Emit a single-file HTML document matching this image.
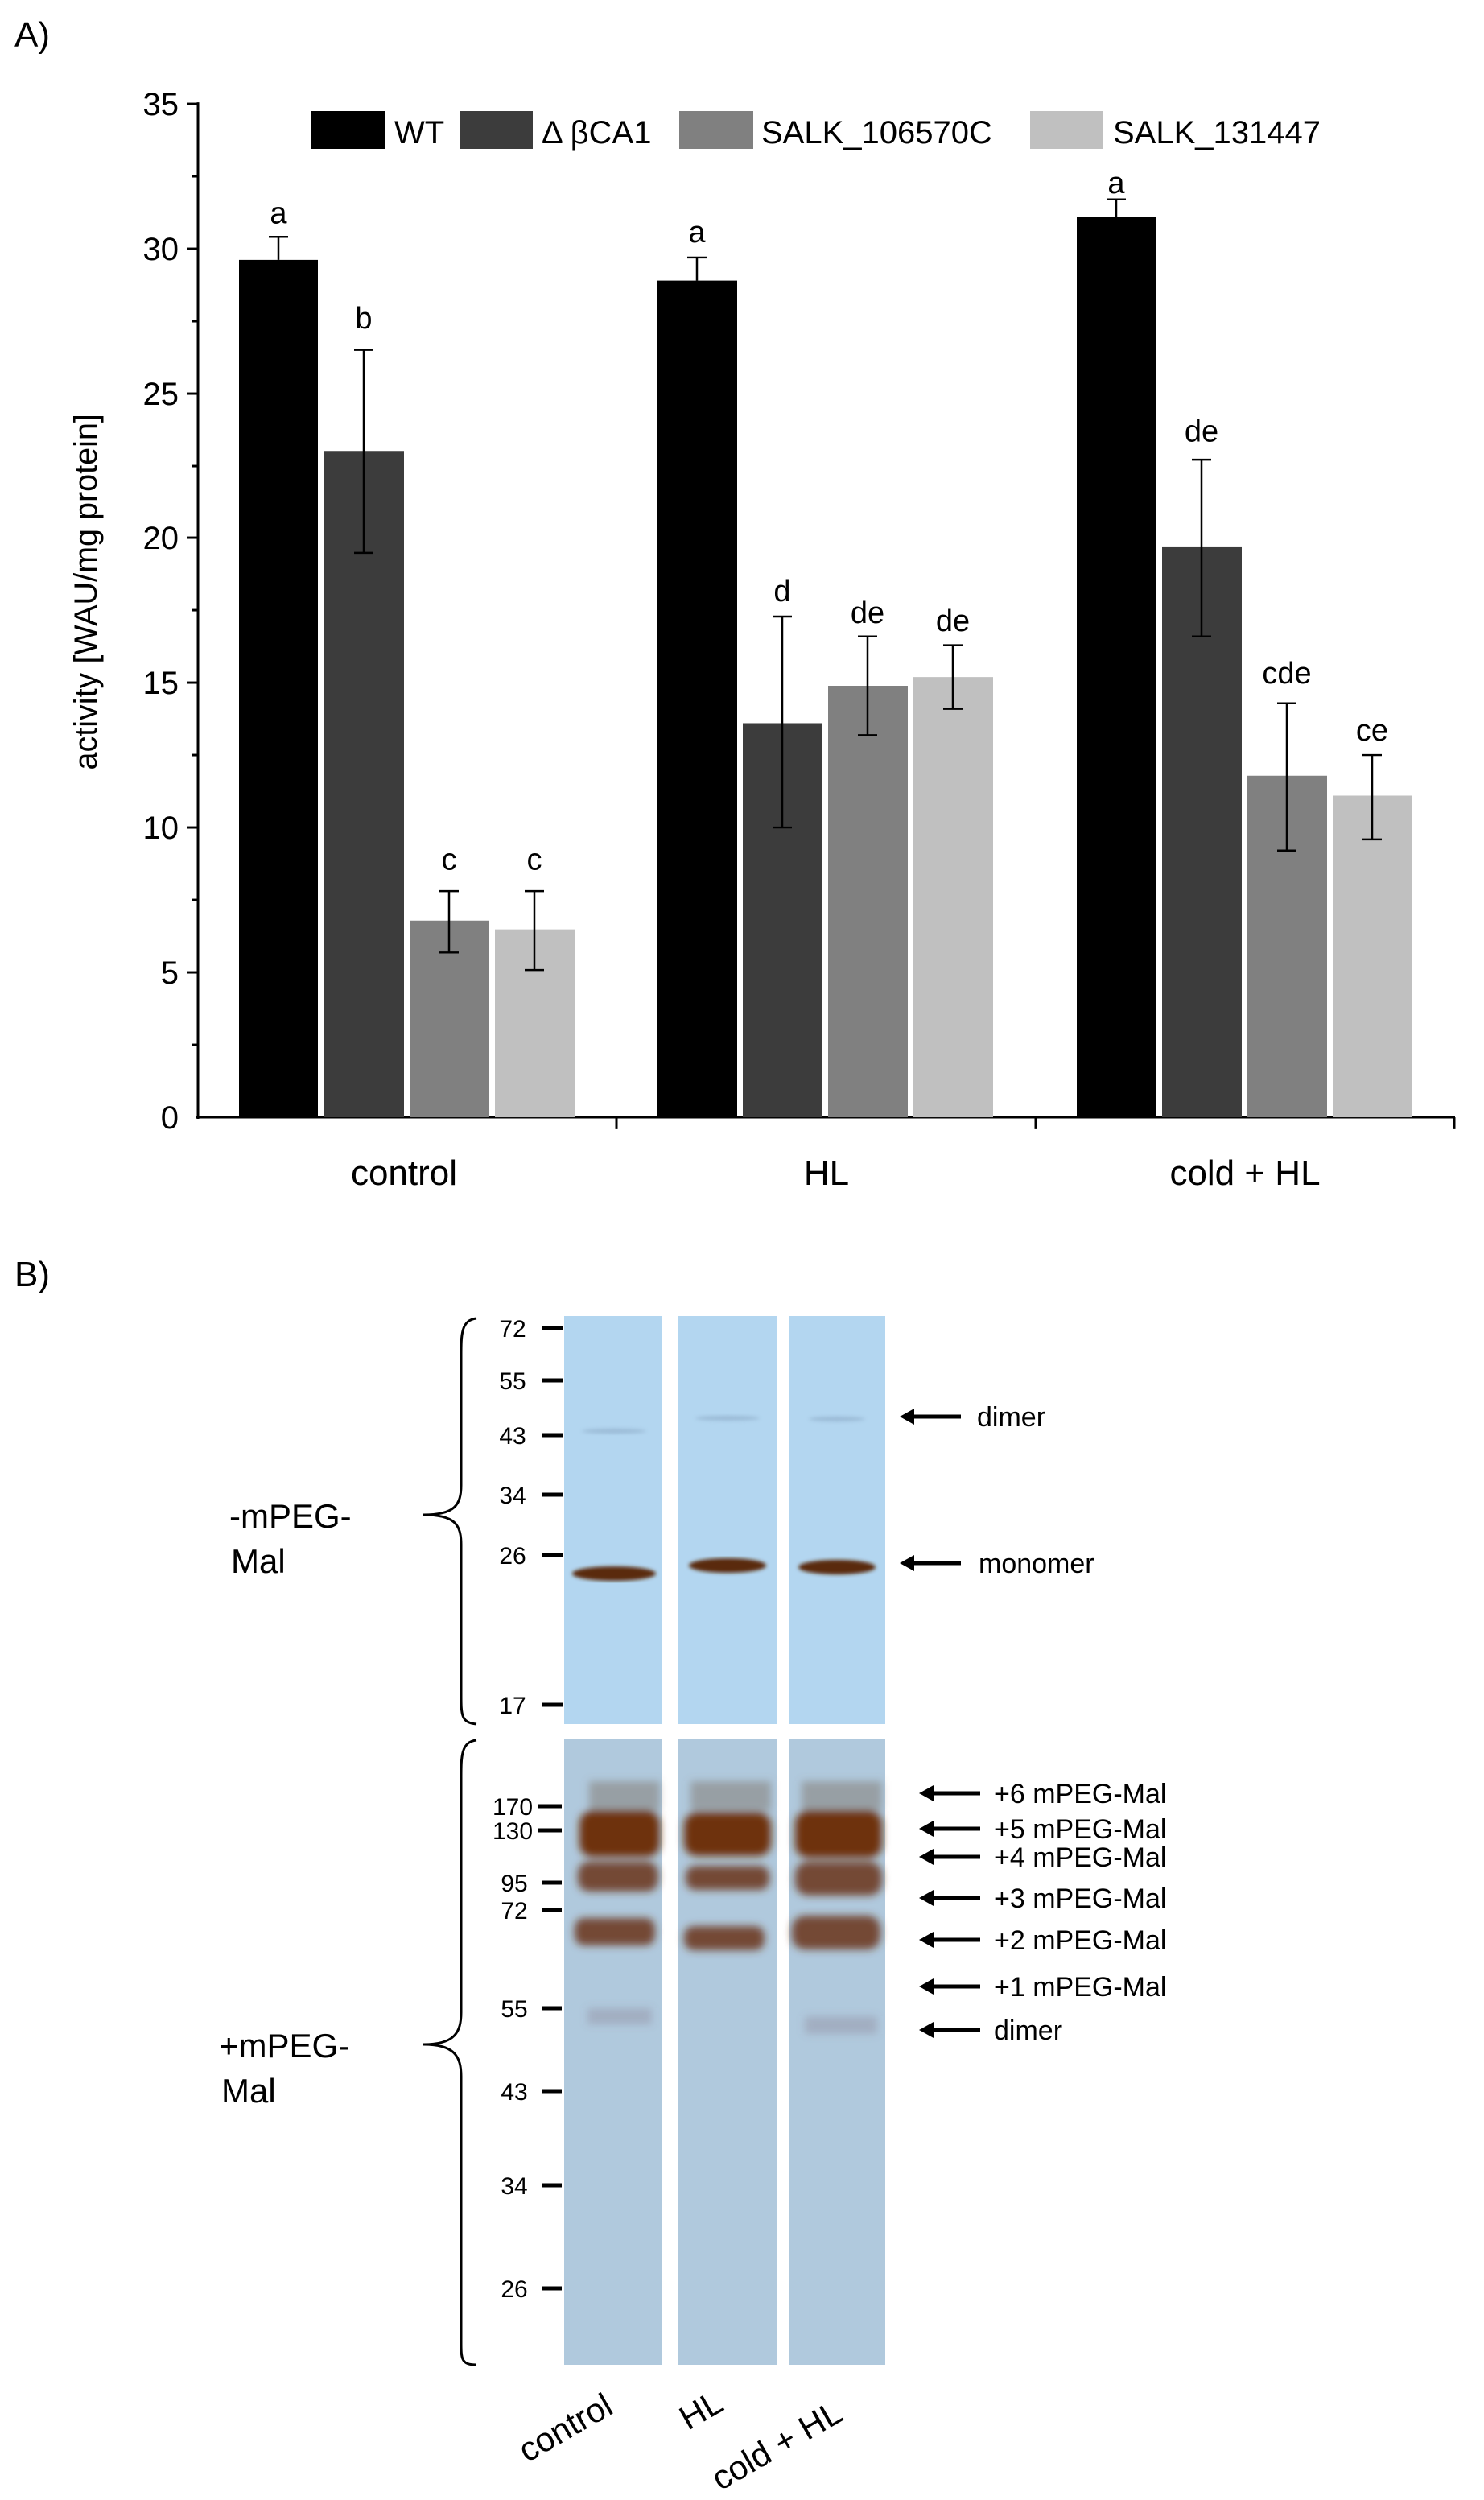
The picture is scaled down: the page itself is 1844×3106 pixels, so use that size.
<!DOCTYPE html>
<html><head><meta charset="utf-8"><style>body{margin:0;background:#fff}svg{display:block}</style></head>
<body>
<svg width="1844" height="3106" viewBox="0 0 1844 3106" xmlns="http://www.w3.org/2000/svg" font-family="Liberation Sans, sans-serif">
<defs>
<filter id="bl"><feGaussianBlur stdDeviation="5"/></filter>
<filter id="bl2"><feGaussianBlur stdDeviation="2.5"/></filter>
</defs>
<text x="18" y="58" font-size="44">A)</text>
<g transform="translate(0,-1.5) scale(1,0.989)">
<!-- axes -->
<g stroke="#000" stroke-width="3">
<line x1="246" y1="130" x2="246" y2="1407"/>
<line x1="244" y1="1405" x2="1808" y2="1405"/>
<line x1="766" y1="1405" x2="766" y2="1420"/>
<line x1="1287" y1="1405" x2="1287" y2="1420"/>
<line x1="1807" y1="1405" x2="1807" y2="1420"/>
</g>
<g stroke="#000" stroke-width="3">
<line x1="232" y1="132" x2="246" y2="132"/><line x1="232" y1="314" x2="246" y2="314"/><line x1="232" y1="496" x2="246" y2="496"/><line x1="232" y1="677" x2="246" y2="677"/><line x1="232" y1="859" x2="246" y2="859"/><line x1="232" y1="1041" x2="246" y2="1041"/><line x1="232" y1="1223" x2="246" y2="1223"/>
<line x1="238" y1="223" x2="246" y2="223"/><line x1="238" y1="405" x2="246" y2="405"/><line x1="238" y1="587" x2="246" y2="587"/><line x1="238" y1="768" x2="246" y2="768"/><line x1="238" y1="950" x2="246" y2="950"/><line x1="238" y1="1132" x2="246" y2="1132"/><line x1="238" y1="1314" x2="246" y2="1314"/>
</g>
<g font-size="40" text-anchor="end">
<text x="222" y="146">35</text><text x="222" y="328">30</text><text x="222" y="510">25</text><text x="222" y="691">20</text><text x="222" y="873">15</text><text x="222" y="1055">10</text><text x="222" y="1237">5</text><text x="222" y="1419">0</text>
</g>
<text transform="translate(120,745) rotate(-90)" font-size="40" text-anchor="middle">activity [WAU/mg protein]</text>
<!-- bars -->
<g>
<rect x="297" y="328" width="98" height="1077" fill="#000"/>
<rect x="403" y="568" width="99" height="837" fill="#3c3c3c"/>
<rect x="509" y="1158" width="99" height="247" fill="#808080"/>
<rect x="615" y="1169" width="99" height="236" fill="#c0c0c0"/>
<rect x="817" y="354" width="99" height="1051" fill="#000"/>
<rect x="923" y="910" width="99" height="495" fill="#3c3c3c"/>
<rect x="1029" y="863" width="99" height="542" fill="#808080"/>
<rect x="1135" y="852" width="99" height="553" fill="#c0c0c0"/>
<rect x="1338" y="274" width="99" height="1131" fill="#000"/>
<rect x="1444" y="688" width="99" height="717" fill="#3c3c3c"/>
<rect x="1550" y="976" width="99" height="429" fill="#808080"/>
<rect x="1656" y="1001" width="99" height="404" fill="#c0c0c0"/>
</g>
<!-- error bars -->
<g stroke="#000" stroke-width="2.5" fill="none">
<path d="M346 299V328M334 299H358"/>
<path d="M452 441V696M440 441H464M440 696H464"/>
<path d="M558 1121V1198M546 1121H570M546 1198H570"/>
<path d="M664 1121V1220M652 1121H676M652 1220H676"/>
<path d="M866 325V354M854 325H878"/>
<path d="M972 776V1041M960 776H984M960 1041H984"/>
<path d="M1078 801V925M1066 801H1090M1066 925H1090"/>
<path d="M1184 812V892M1172 812H1196M1172 892H1196"/>
<path d="M1387 252V274M1375 252H1399"/>
<path d="M1493 579V801M1481 579H1505M1481 801H1505"/>
<path d="M1599 885V1070M1587 885H1611M1587 1070H1611"/>
<path d="M1705 950V1056M1693 950H1717M1693 1056H1717"/>
</g>
<g font-size="38" text-anchor="middle">
<text x="346" y="282">a</text><text x="452" y="414">b</text><text x="558" y="1094">c</text><text x="664" y="1094">c</text>
<text x="866" y="306">a</text><text x="972" y="757">d</text><text x="1078" y="784">de</text><text x="1184" y="794">de</text>
<text x="1387" y="244">a</text><text x="1493" y="556">de</text><text x="1599" y="860">cde</text><text x="1705" y="932">ce</text>
</g>
</g>
<g font-size="44" text-anchor="middle">
<text x="502" y="1472">control</text><text x="1027" y="1472">HL</text><text x="1547" y="1472">cold + HL</text>
</g>
<!-- legend -->
<rect x="386" y="138" width="93" height="47" fill="#000"/>
<rect x="571" y="138" width="91" height="47" fill="#3c3c3c"/>
<rect x="844" y="138" width="92" height="47" fill="#808080"/>
<rect x="1280" y="138" width="91" height="47" fill="#c0c0c0"/>
<g font-size="40"><text x="490" y="178">WT</text><text x="673" y="178">Δ βCA1</text><text x="946" y="178">SALK_106570C</text><text x="1383" y="178">SALK_131447</text></g>
<!-- B -->
<text x="18" y="1598" font-size="44">B)</text>
<!-- upper blot -->
<g fill="#b3d6f0">
<rect x="701" y="1635" width="122" height="507"/><rect x="842" y="1635" width="124" height="507"/><rect x="980" y="1635" width="120" height="507"/>
</g>
<g fill="#5a2c10" filter="url(#bl2)">
<ellipse cx="763" cy="1955" rx="52" ry="9"/><ellipse cx="904" cy="1945" rx="48" ry="9"/><ellipse cx="1040" cy="1947" rx="48" ry="9"/>
</g>
<g fill="#8aa8c4" opacity="0.6" filter="url(#bl2)">
<ellipse cx="763" cy="1778" rx="40" ry="3"/><ellipse cx="904" cy="1762" rx="40" ry="3"/><ellipse cx="1040" cy="1763" rx="35" ry="3"/>
</g>
<!-- lower blot -->
<g fill="#b0c9dd">
<rect x="701" y="2160" width="122" height="778"/><rect x="842" y="2160" width="124" height="778"/><rect x="980" y="2160" width="120" height="778"/>
</g>
<g filter="url(#bl)">
<g fill="#7a6a60" opacity="0.45"><rect x="732" y="2213" width="88" height="37"/><rect x="858" y="2213" width="100" height="37"/><rect x="996" y="2213" width="100" height="37"/></g>
<g fill="#6e3010"><rect x="720" y="2250" width="100" height="57" rx="16"/><rect x="850" y="2252" width="108" height="54" rx="16"/><rect x="988" y="2250" width="108" height="58" rx="16"/></g>
<g fill="#6a3414" opacity="0.85"><rect x="718" y="2313" width="100" height="37" rx="14"/><rect x="852" y="2318" width="104" height="30" rx="12"/><rect x="988" y="2313" width="108" height="42" rx="16"/></g>
<g fill="#6a3414" opacity="0.85"><rect x="714" y="2383" width="100" height="34" rx="12"/><rect x="850" y="2393" width="100" height="30" rx="12"/><rect x="984" y="2380" width="110" height="42" rx="16"/></g>
<g fill="#7a6070" opacity="0.25"><rect x="730" y="2495" width="80" height="20"/><rect x="1000" y="2505" width="90" height="22"/></g>
</g>
<!-- markers -->
<g stroke="#000" stroke-width="5">
<line x1="674" y1="1650" x2="700" y2="1650"/><line x1="674" y1="1715" x2="700" y2="1715"/><line x1="674" y1="1783" x2="700" y2="1783"/><line x1="674" y1="1857" x2="700" y2="1857"/><line x1="674" y1="1932" x2="700" y2="1932"/><line x1="674" y1="2118" x2="700" y2="2118"/>
<line x1="668" y1="2244" x2="698" y2="2244"/><line x1="668" y1="2274" x2="698" y2="2274"/><line x1="674" y1="2339" x2="698" y2="2339"/><line x1="674" y1="2373" x2="698" y2="2373"/><line x1="674" y1="2495" x2="698" y2="2495"/><line x1="674" y1="2598" x2="698" y2="2598"/><line x1="674" y1="2715" x2="698" y2="2715"/><line x1="674" y1="2843" x2="698" y2="2843"/>
</g>
<g font-size="30" text-anchor="middle">
<text x="637" y="1661">72</text><text x="637" y="1726">55</text><text x="637" y="1794">43</text><text x="637" y="1868">34</text><text x="637" y="1943">26</text><text x="637" y="2129">17</text>
<text x="637" y="2255">170</text><text x="637" y="2285">130</text><text x="639" y="2350">95</text><text x="639" y="2384">72</text><text x="639" y="2506">55</text><text x="639" y="2609">43</text><text x="639" y="2726">34</text><text x="639" y="2854">26</text>
</g>
<!-- braces -->
<g stroke="#000" stroke-width="3" fill="none">
<path d="M592 1638 C572 1640 573 1660 573 1690 L573 1845 C573 1870 565 1882 526 1882 C565 1882 573 1894 573 1919 L573 2100 C573 2130 572 2140 592 2142"/>
<path d="M592 2162 C572 2164 573 2184 573 2214 L573 2500 C573 2525 565 2540 526 2540 C565 2540 573 2555 573 2580 L573 2905 C573 2930 572 2938 592 2938"/>
</g>
<g font-size="42">
<text x="285" y="1898">-mPEG-</text><text x="287" y="1954">Mal</text>
<text x="272" y="2556">+mPEG-</text><text x="275" y="2612">Mal</text>
</g>
<!-- arrows -->
<g stroke="#000" stroke-width="5">
<line x1="1130" y1="1760" x2="1194" y2="1760"/><line x1="1130" y1="1942" x2="1194" y2="1942"/>
<line x1="1155" y1="2228" x2="1218" y2="2228"/><line x1="1155" y1="2272" x2="1218" y2="2272"/><line x1="1155" y1="2307" x2="1218" y2="2307"/><line x1="1155" y1="2358" x2="1218" y2="2358"/><line x1="1155" y1="2410" x2="1218" y2="2410"/><line x1="1155" y1="2468" x2="1218" y2="2468"/><line x1="1155" y1="2522" x2="1218" y2="2522"/>
</g>
<g fill="#000">
<path d="M1118 1760l18-10v20z"/><path d="M1118 1942l18-10v20z"/>
<path d="M1142 2228l18-10v20z"/><path d="M1142 2272l18-10v20z"/><path d="M1142 2307l18-10v20z"/><path d="M1142 2358l18-10v20z"/><path d="M1142 2410l18-10v20z"/><path d="M1142 2468l18-10v20z"/><path d="M1142 2522l18-10v20z"/>
</g>
<g font-size="34">
<text x="1214" y="1772">dimer</text><text x="1216" y="1954">monomer</text>
<text x="1235" y="2240">+6 mPEG-Mal</text><text x="1235" y="2284">+5 mPEG-Mal</text><text x="1235" y="2319">+4 mPEG-Mal</text><text x="1235" y="2370">+3 mPEG-Mal</text><text x="1235" y="2422">+2 mPEG-Mal</text><text x="1235" y="2480">+1 mPEG-Mal</text><text x="1235" y="2534">dimer</text>
</g>
<g font-size="42">
<text transform="translate(655,3060) rotate(-30)">control</text>
<text transform="translate(855,3020) rotate(-30)">HL</text>
<text transform="translate(895,3095) rotate(-30)">cold + HL</text>
</g>
</svg>
</body></html>
